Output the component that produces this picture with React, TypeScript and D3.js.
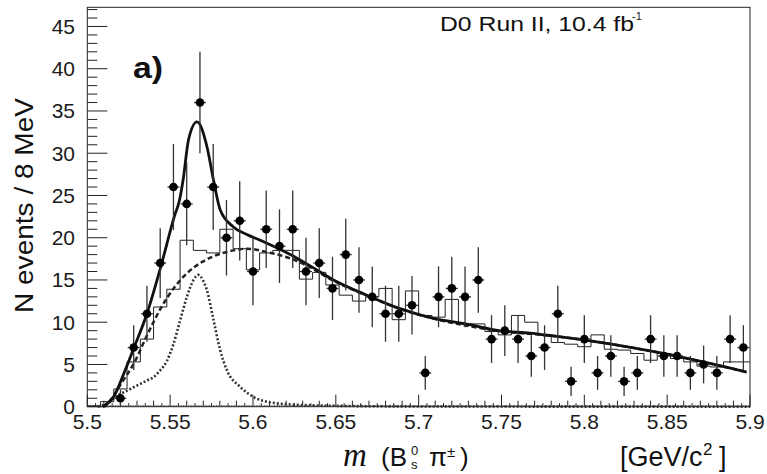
import React from 'react';
import * as d3 from 'd3';

const W = 767;
const H = 474;
const xMin = 5.5;
const xMax = 5.9;
const binWidth = 0.008;
const yMax = 47.27;

// Data counts per 8 MeV bin (bins start at 5.500)
const dataCounts = [0, 0, 1, 7, 11, 17, 26, 24, 36, 26, 20, 22, 16, 21, 19, 21, 16, 17, 14, 18, 15, 13, 11, 11, 12, 4, 13, 14, 13, 15, 8, 9, 8, 6, 7, 11, 3, 8, 4, 6, 3, 4, 8, 6, 6, 4, 5, 4, 8, 7];

// Simulated (MC) histogram per bin
const mcHist = [0.1, 0.6, 2.1, 5.3, 8.0, 11.8, 13.9, 19.7, 18.5, 18.2, 21.0, 18.7, 16.2, 18.2, 18.5, 18.5, 15.1, 15.9, 14.4, 13.2, 12.5, 13.0, 14.0, 10.3, 13.7, 10.8, 10.6, 12.7, 9.8, 9.8, 8.9, 8.5, 10.8, 10.0, 8.5, 7.6, 7.4, 7.1, 8.5, 6.8, 6.7, 6.3, 5.5, 6.3, 5.7, 5.3, 4.8, 4.7, 5.3, 5.3];

// Total fit curve (mass, events)
const totalFitM = [5.5095, 5.516, 5.522, 5.528, 5.536, 5.544, 5.5525, 5.5557, 5.5578, 5.5611, 5.5662, 5.5722, 5.5762, 5.5802, 5.588, 5.596, 5.6044, 5.6245, 5.6325, 5.6486, 5.6687, 5.6888, 5.709, 5.729, 5.749, 5.767, 5.78, 5.8075, 5.8478, 5.898];
const totalFitN = [0, 1.2, 3.9, 6.9, 11.0, 16.3, 22.5, 24.5, 26.8, 31.6, 33.7, 30.8, 26.8, 23.3, 21.3, 20.4, 19.7, 17.8, 16.9, 15.0, 13.2, 11.6, 10.45, 9.77, 8.98, 8.7, 8.4, 7.68, 6.3, 4.1];

// Background curve
const bkgFitM = [5.5095, 5.514, 5.52, 5.5283, 5.5364, 5.5445, 5.5525, 5.5602, 5.5682, 5.5762, 5.5883, 5.5963, 5.6084, 5.6245, 5.6325, 5.6486, 5.6687, 5.6888, 5.709, 5.749, 5.78, 5.8478, 5.898];
const bkgFitN = [0, 0.8, 2.6, 5.2, 8.6, 11.7, 14.1, 15.8, 17.0, 17.8, 18.5, 18.7, 18.3, 17.4, 16.7, 14.9, 13.15, 11.57, 10.43, 8.97, 8.4, 6.3, 4.1];

// Signal curve
const sigFitM = [5.5065, 5.512, 5.518, 5.524, 5.53, 5.536, 5.54, 5.544, 5.548, 5.552, 5.556, 5.5601, 5.5641, 5.567, 5.57, 5.5722, 5.5762, 5.5802, 5.5843, 5.5923, 5.6003, 5.6124, 5.6325, 5.66, 5.7, 5.9];
const sigFitN = [0, 0.4, 1.3, 1.9, 2.5, 3.1, 3.5, 4.3, 5.4, 7.4, 10.2, 13.0, 15.0, 15.6, 14.9, 13.8, 10.25, 6.7, 4.3, 2.35, 1.16, 0.45, 0.18, 0.08, 0.03, 0];

const yTickValues = [0, 5, 10, 15, 20, 25, 30, 35, 40, 45];
const xTickValues = [5.5, 5.55, 5.6, 5.65, 5.7, 5.75, 5.8, 5.85, 5.9];
const xTickLabels = ['5.5', '5.55', '5.6', '5.65', '5.7', '5.75', '5.8', '5.85', '5.9'];

const SANS = '"Liberation Sans", Arial, Helvetica, sans-serif';
const SERIF = '"Liberation Serif", "Times New Roman", serif';

export default function App() {
  const x = d3.scaleLinear().domain([xMin, xMax]).range([87.3, 750]);
  const y = d3.scaleLinear().domain([0, yMax]).range([406.7, 7.3]);
  const nBins = dataCounts.length;

  const lineGen = d3
    .line<[number, number]>()
    .x((d) => x(d[0]))
    .y((d) => y(d[1]))
    .curve(d3.curveMonotoneX);

  const zip = (a: number[], b: number[]) => a.map((v, i) => [v, b[i]] as [number, number]);

  const histPts: [number, number][] = mcHist.map((v, k) => [xMin + k * binWidth, v]);
  histPts.push([xMin + nBins * binWidth, mcHist[nBins - 1]]);
  const histPath = d3
    .line<[number, number]>()
    .x((d) => x(d[0]))
    .y((d) => y(d[1]))
    .curve(d3.curveStepAfter)(histPts) as string;

  // x ticks (multi-level)
  const xTicks: { px: number; len: number; w: number }[] = [];
  for (let i = 0; i <= 400; i++) {
    const m = xMin + i * 0.001;
    let len = 1.5;
    let w = 0.8;
    if (i % 50 === 0) { len = 12; w = 1; }
    else if (i % 10 === 0) { len = 6; w = 1; }
    else if (i % 5 === 0) { len = 3.5; w = 1; }
    xTicks.push({ px: x(m), len, w });
  }
  const yMinor = d3.range(0, 48, 1);

  const points = dataCounts
    .map((n, k) => ({ n, m: xMin + (k + 0.5) * binWidth }))
    .filter((d) => d.n > 0);

  const halfBinPx = (x(xMin + binWidth) - x(xMin)) * 0.45;

  return (
    <svg width={W} height={H} style={{ position: 'absolute', left: 0, top: 0, background: '#fff' }}>
      <rect x={0} y={0} width={W} height={H} fill="#fff" />
      {/* frame */}
      <rect x={87.3} y={7.3} width={750 - 87.3} height={406.7 - 7.3} fill="none" stroke="#222" strokeWidth={1} />
      {/* y ticks */}
      {yMinor.map((v) => (
        <line key={'yt' + v} x1={87.3} x2={87.3 + (v % 5 === 0 ? 20 : 10)} y1={y(v)} y2={y(v)} stroke="#222" strokeWidth={1} />
      ))}
      {/* x ticks */}
      {xTicks.map((t, i) => (
        <line key={'xt' + i} x1={t.px} x2={t.px} y1={406.7} y2={406.7 - t.len} stroke="#222" strokeWidth={t.w} />
      ))}
      {/* y tick labels */}
      {yTickValues.map((v) => (
        <text key={'yl' + v} x={75} y={y(v) + 7.5} textAnchor="end" fontFamily={SANS} fontSize={21} fill="#1a1a1a">
          {v}
        </text>
      ))}
      {/* x tick labels */}
      {xTickValues.map((v, i) => (
        <text key={'xl' + i} x={x(v)} y={429} textAnchor="middle" fontFamily={SANS} fontSize={21} fill="#1a1a1a">
          {xTickLabels[i]}
        </text>
      ))}
      {/* histogram */}
      <path d={histPath} fill="none" stroke="#222" strokeWidth={1} />
      {/* signal dotted */}
      <path d={lineGen(zip(sigFitM, sigFitN)) as string} fill="none" stroke="#333" strokeWidth={2.6} strokeDasharray="2,2" />
      {/* background dashed */}
      <path d={lineGen(zip(bkgFitM, bkgFitN)) as string} fill="none" stroke="#222" strokeWidth={2.5} strokeDasharray="5,3" />
      {/* total solid */}
      <path d={lineGen(zip(totalFitM, totalFitN)) as string} fill="none" stroke="#111" strokeWidth={2.8} />
      {/* data points */}
      {points.map((p, i) => {
        const e = Math.sqrt(p.n);
        const cx = x(p.m);
        return (
          <g key={'p' + i}>
            <line x1={cx} x2={cx} y1={y(p.n - e)} y2={y(p.n + e)} stroke="#333" strokeWidth={1.3} />
            <line x1={cx - halfBinPx} x2={cx + halfBinPx} y1={y(p.n)} y2={y(p.n)} stroke="#333" strokeWidth={1.3} />
            <circle cx={cx} cy={y(p.n)} r={4.3} fill="#000" />
          </g>
        );
      })}
      {/* labels */}
      <text x={133} y={78} fontFamily={SANS} fontWeight="bold" fontSize={30} fill="#111" textLength={30} lengthAdjust="spacingAndGlyphs">
        a)
      </text>
      <text x={440} y={30.5} fontFamily={SANS} fontSize={20} fill="#111" textLength={194} lengthAdjust="spacingAndGlyphs">
        D0 Run II, 10.4 fb
      </text>
      <text x={632} y={20} fontFamily={SANS} fontSize={11} fill="#111">
        -1
      </text>
      {/* y title */}
      <text
        transform="translate(33,205.5) rotate(-90)"
        textAnchor="middle"
        fontFamily={SANS}
        fontSize={26}
        fill="#111"
        textLength={215}
        lengthAdjust="spacingAndGlyphs"
      >
        N events / 8 MeV
      </text>
      {/* x title */}
      <text x={343} y={466} fontFamily={SERIF} fontStyle="italic" fontSize={33} fill="#111">m</text>
      <text x={381} y={466} fontFamily={SANS} fontSize={26} fill="#111">(B</text>
      <text x={411} y={455} fontFamily={SANS} fontSize={13} fill="#111">0</text>
      <text x={411} y={469} fontFamily={SANS} fontSize={13} fill="#111">s</text>
      <text x={429} y={466} fontFamily={SANS} fontSize={26} fill="#111">π</text>
      <text x={447} y={457} fontFamily={SANS} fontSize={15} fill="#111">±</text>
      <text x={460} y={466} fontFamily={SANS} fontSize={26} fill="#111">)</text>
      <text x={620} y={466} fontFamily={SANS} fontSize={27} fill="#111">[GeV/c</text>
      <text x={703} y={455} fontFamily={SANS} fontSize={17} fill="#111">2</text>
      <text x={719} y={466} fontFamily={SANS} fontSize={27} fill="#111">]</text>
    </svg>
  );
}
